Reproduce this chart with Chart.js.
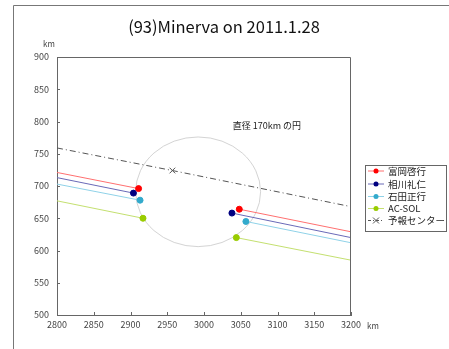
<!DOCTYPE html>
<html>
<head>
<meta charset="utf-8">
<script src="https://cdn.jsdelivr.net/npm/chart.js@4"></script>
<style>
  html, body { margin: 0; padding: 0; background: #fff; }
  #wrap { width: 449px; height: 349px; }
</style>
</head>
<body>
<div id="wrap"><canvas id="chart" width="449" height="349"></canvas></div>
<script>
// observers and their chord ends (km)
const observers = ['富岡啓行', '相川礼仁', '石田正行', 'AC-SOL'];
const dotColors = ['#ff0000', '#000080', '#33aacc', '#99cc00'];
const lineColors = ['#ff7070', '#6a6ab8', '#8fd2e8', '#c4e070'];
const startX = [2800, 2800, 2800, 2800];
const startY = [721, 713, 703, 677];
const westX = [2911, 2904, 2913, 2917];
const westY = [696, 689, 678, 650];
const eastX = [3048, 3038, 3057, 3044];
const eastY = [664, 658, 645, 620];
const endX = [3200, 3200, 3200, 3200];
const endY = [629, 620, 612, 585];

// predicted center line
const centerLabel = '予報センター';
const centerX = [2800, 2957, 3200];
const centerY = [759, 724, 668];

// reference circle
const circleX = 2992;
const circleY = 691;
const circleDiam = 170;
const circleText = '直径 170km の円';
const textX = 3039;
const textY = 793;

const titleText = '(93)Minerva on 2011.1.28';
const xTicks = [2800, 2850, 2900, 2950, 3000, 3050, 3100, 3150, 3200];
const yTicks = [500, 550, 600, 650, 700, 750, 800, 850, 900];

const FONT = '"Noto Sans CJK JP", "DejaVu Sans", sans-serif';

let datasets = [];
for (let i = 0; i < observers.length; i++) {
    datasets.push({
        label: observers[i],
        data: [{x: startX[i], y: startY[i]}, {x: westX[i], y: westY[i]}],
        borderColor: lineColors[i],
        backgroundColor: dotColors[i],
        pointBackgroundColor: dotColors[i],
        pointBorderColor: dotColors[i],
        borderWidth: 1,
        pointRadius: [0, 3],
        showLine: true
    });
    datasets.push({
        label: observers[i] + '_e',
        data: [{x: eastX[i], y: eastY[i]}, {x: endX[i], y: endY[i]}],
        borderColor: lineColors[i],
        pointBackgroundColor: dotColors[i],
        pointBorderColor: dotColors[i],
        borderWidth: 1,
        pointRadius: [3, 0],
        showLine: true
    });
}
datasets.push({
    label: centerLabel,
    data: centerX.map((x, i) => ({x: x, y: centerY[i]})),
    borderColor: '#555555',
    borderWidth: 1,
    borderDash: [6, 3, 1, 3],
    pointStyle: 'crossRot',
    pointRadius: [0, 4, 0],
    pointBorderColor: '#555555',
    pointBorderWidth: 1,
    showLine: true
});

const extras = {
    id: 'extras',
    beforeDraw(chart) {
        const ctx = chart.ctx;
        ctx.save();
        ctx.fillStyle = '#fff';
        ctx.fillRect(0, 0, chart.width, chart.height);
        // outer frame
        ctx.strokeStyle = '#777';
        ctx.lineWidth = 1;
        ctx.beginPath();
        ctx.moveTo(13.5, 349);
        ctx.lineTo(13.5, 5.5);
        ctx.lineTo(449, 5.5);
        ctx.stroke();
        // title
        ctx.fillStyle = '#111';
        ctx.font = '16.5px ' + FONT;
        ctx.textAlign = 'center';
        ctx.textBaseline = 'middle';
        ctx.fillText(titleText, 224, 27);
        ctx.restore();
    },
    beforeDatasetsDraw(chart) {
        const ctx = chart.ctx;
        const xs = chart.scales.x, ys = chart.scales.y;
        ctx.save();
        // circle of given diameter, drawn through the scales
        const cx = xs.getPixelForValue(circleX);
        const cy = ys.getPixelForValue(circleY);
        const rx = Math.abs(xs.getPixelForValue(circleX + circleDiam / 2) - cx);
        const ry = Math.abs(ys.getPixelForValue(circleY + circleDiam / 2) - cy);
        ctx.strokeStyle = '#d4d4d4';
        ctx.lineWidth = 1;
        ctx.beginPath();
        ctx.ellipse(cx, cy, rx, ry, 0, 0, Math.PI * 2);
        ctx.stroke();
        ctx.restore();
    },
    afterDraw(chart) {
        const ctx = chart.ctx;
        const xs = chart.scales.x, ys = chart.scales.y;
        const a = chart.chartArea;
        ctx.save();
        // inward tick marks
        ctx.strokeStyle = '#666';
        ctx.lineWidth = 1;
        ctx.beginPath();
        xTicks.forEach(v => {
            const px = Math.round(xs.getPixelForValue(v)) + 0.5;
            ctx.moveTo(px, a.bottom);
            ctx.lineTo(px, a.bottom - 3);
        });
        yTicks.forEach(v => {
            const py = Math.round(ys.getPixelForValue(v)) + 0.5;
            ctx.moveTo(a.left, py);
            ctx.lineTo(a.left + 3, py);
        });
        ctx.stroke();

        // axis unit labels
        ctx.fillStyle = '#444';
        ctx.font = '8px ' + FONT;
        ctx.textBaseline = 'middle';
        ctx.textAlign = 'center';
        ctx.fillText('km', 49, 44);
        ctx.fillText('km', 373, 326);

        // circle caption
        ctx.fillStyle = '#222';
        ctx.font = '9px ' + FONT;
        ctx.textAlign = 'left';
        ctx.fillText(circleText, xs.getPixelForValue(textX), ys.getPixelForValue(textY));

        // legend box
        const lx = 365.5, ly = 165.5, lw = 81, lh = 66;
        ctx.strokeStyle = '#666';
        ctx.strokeRect(lx, ly, lw, lh);
        const rowY = [171, 184, 196.5, 208.5, 220.5];
        ctx.font = '9.5px ' + FONT;
        for (let i = 0; i < observers.length; i++) {
            ctx.strokeStyle = lineColors[i];
            ctx.beginPath();
            ctx.moveTo(368, rowY[i]);
            ctx.lineTo(384, rowY[i]);
            ctx.stroke();
            ctx.fillStyle = dotColors[i];
            ctx.beginPath();
            ctx.arc(376, rowY[i], 2.5, 0, Math.PI * 2);
            ctx.fill();
            ctx.fillStyle = '#222';
            ctx.fillText(observers[i], 388, rowY[i]);
        }
        const r = rowY[4];
        ctx.strokeStyle = '#555';
        ctx.setLineDash([3, 2, 1, 2]);
        ctx.beginPath();
        ctx.moveTo(368, r);
        ctx.lineTo(384, r);
        ctx.stroke();
        ctx.setLineDash([]);
        ctx.beginPath();
        ctx.moveTo(373, r - 3); ctx.lineTo(379, r + 3);
        ctx.moveTo(379, r - 3); ctx.lineTo(373, r + 3);
        ctx.stroke();
        ctx.fillStyle = '#222';
        ctx.fillText(centerLabel, 388, r);
        ctx.restore();
    }
};

// right and top border of the plot
const frame = {
    id: 'frame',
    afterDatasetsDraw(chart) {
        const a = chart.chartArea;
        const ctx = chart.ctx;
        ctx.save();
        ctx.strokeStyle = '#666';
        ctx.lineWidth = 1;
        ctx.beginPath();
        ctx.moveTo(a.left, a.top + 0.5);
        ctx.lineTo(a.right - 0.5, a.top + 0.5);
        ctx.lineTo(a.right - 0.5, a.bottom);
        ctx.stroke();
        ctx.restore();
    }
};

const config = {
    type: 'scatter',
    data: { datasets: datasets },
    options: {
        responsive: false,
        animation: false,
        devicePixelRatio: 1,
        layout: { padding: { left: 0, right: 98, top: 57, bottom: 0 } },
        plugins: {
            legend: { display: false },
            tooltip: { enabled: false },
            title: { display: false }
        },
        scales: {
            x: {
                type: 'linear',
                min: 2800,
                max: 3200,
                afterBuildTicks: s => { s.ticks = xTicks.map(v => ({value: v})); },
                afterFit: s => { s.height = 34; },
                grid: { display: false, drawTicks: false },
                border: { display: true, color: '#666', width: 1 },
                ticks: {
                    color: '#444', font: { family: FONT, size: 9 }, padding: 4, maxRotation: 0,
                    callback: v => String(v)
                }
            },
            y: {
                type: 'linear',
                min: 500,
                max: 900,
                afterBuildTicks: s => { s.ticks = yTicks.map(v => ({value: v})); },
                afterFit: s => { s.width = 57; },
                grid: { display: false, drawTicks: false },
                border: { display: true, color: '#666', width: 1 },
                ticks: {
                    color: '#444', font: { family: FONT, size: 9 }, padding: 8,
                    callback: v => String(v)
                }
            }
        }
    },
    plugins: [extras, frame]
};

new Chart(document.getElementById('chart'), config);
</script>
</body>
</html>
